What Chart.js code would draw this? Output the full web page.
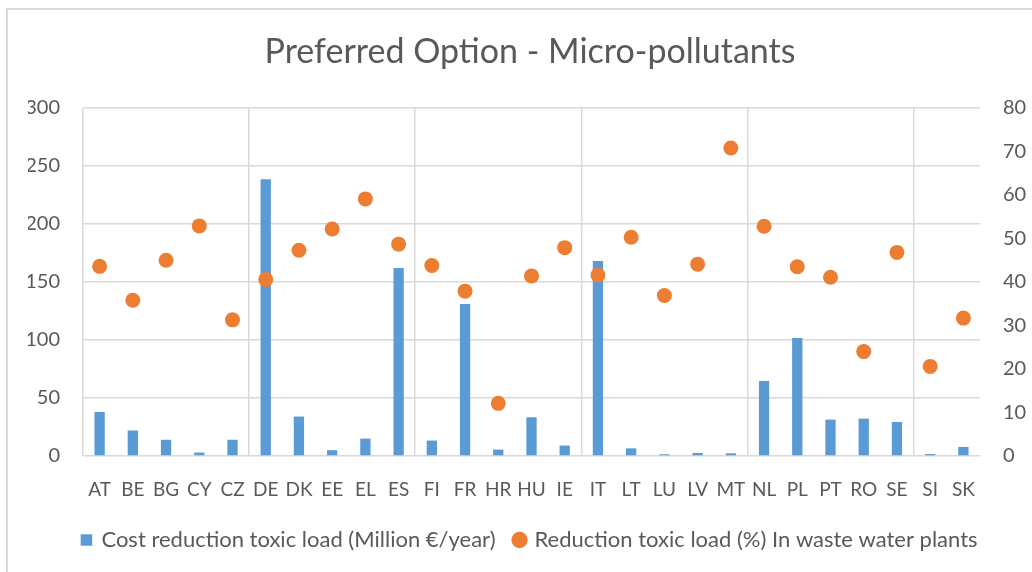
<!DOCTYPE html>
<html>
<head>
<meta charset="utf-8">
<script src="https://cdn.jsdelivr.net/npm/chart.js@4.4.0/dist/chart.umd.min.js"></script>
<style>
  html, body { margin: 0; padding: 0; background: #ffffff; }
  #wrap { position: relative; width: 1032px; height: 572px; overflow: hidden; }
  #frame { position: absolute; left: 6px; top: 8px; width: 1100px; height: 700px;
           border-left: 2px solid #d9d9d9; border-top: 2px solid #d9d9d9; }
  #c { position: absolute; left: 0; top: 0; }
</style>
</head>
<body>
<div id="wrap">
  <div id="frame"></div>
  <canvas id="c" width="1032" height="572"></canvas>
</div>
<script>
const categories = ["AT","BE","BG","CY","CZ","DE","DK","EE","EL","ES","FI","FR","HR","HU","IE","IT","LT","LU","LV","MT","NL","PL","PT","RO","SE","SI","SK"];
const costValues = [38, 22, 14, 3, 14, 238.5, 34, 5, 15, 162, 13.3, 131, 5.5, 33.4, 9, 168, 6.6, 1.5, 2.6, 2.3, 64.7, 101.8, 31.4, 32.2, 29.3, 1.7, 7.8];
const reductionValues = [43.6, 35.8, 45.0, 52.9, 31.3, 40.6, 47.3, 52.2, 59.1, 48.7, 43.8, 37.9, 12.1, 41.4, 47.9, 41.6, 50.3, 36.9, 44.1, 70.8, 52.8, 43.5, 41.1, 24.0, 46.8, 20.6, 31.7];
const leftAxis = { min: 0, max: 300, step: 50 };
const rightAxis = { min: 0, max: 80, step: 10 };
const titleText = "Preferred Option - Micro-pollutants";
const costLabel = "Cost reduction toxic load (Million €/year)";
const reductionLabel = "Reduction toxic load (%) In waste water plants";

const FONT = "Lato";
const TEXT = "#595959";
const GRID = "#d9d9d9";

new Chart(document.getElementById("c"), {
  data: {
    labels: categories,
    datasets: [
      {
        type: "bar",
        label: costLabel,
        data: costValues,
        backgroundColor: "#5B9BD5",
        borderWidth: 0,
        barPercentage: 0.31,
        categoryPercentage: 1.0,
        yAxisID: "y",
        order: 1,
        pointStyle: "rect"
      },
      {
        type: "line",
        label: reductionLabel,
        data: reductionValues,
        showLine: false,
        pointRadius: 7.5,
        pointHoverRadius: 7.5,
        pointBackgroundColor: "#ED7D31",
        pointBorderWidth: 0,
        backgroundColor: "#ED7D31",
        borderColor: "#ED7D31",
        yAxisID: "y1",
        order: 0,
        pointStyle: "circle"
      }
    ]
  },
  options: {
    responsive: false,
    animation: false,
    devicePixelRatio: 1,
    layout: { padding: { left: 28, right: 0, top: 0, bottom: 11 } },
    plugins: {
      title: {
        display: true,
        text: titleText,
        color: TEXT,
        font: { family: FONT, size: 34, weight: "normal" },
        padding: { top: 32, bottom: 35.2 }
      },
      legend: {
        position: "bottom",
        labels: {
          color: TEXT,
          font: { family: FONT, size: 22 },
          usePointStyle: true,
          boxWidth: 8,
          boxHeight: 11.5,
          padding: 20,
          sort: (a, b) => a.datasetIndex - b.datasetIndex
        }
      },
      tooltip: { enabled: false }
    },
    scales: {
      x: {
        type: "category",
        offset: true,
        grid: {
          offset: true,
          drawTicks: false,
          color: (ctx) => (ctx.index % 5 === 0 ? GRID : "rgba(0,0,0,0)"),
          lineWidth: 1.5
        },
        border: { display: false },
        ticks: {
          color: TEXT,
          font: { family: FONT, size: 19 },
          padding: 22,
          maxRotation: 0,
          autoSkip: false
        },
        afterFit: (s) => { s.height = 53; }
      },
      y: {
        position: "left",
        min: leftAxis.min,
        max: leftAxis.max,
        grid: { color: GRID, drawTicks: false, lineWidth: 1.5 },
        border: { display: false },
        ticks: {
          stepSize: leftAxis.step,
          color: TEXT,
          font: { family: FONT, size: 20 },
          padding: 23
        },
        afterFit: (s) => { s.width = 55; }
      },
      y1: {
        position: "right",
        min: rightAxis.min,
        max: rightAxis.max,
        grid: { display: false, drawTicks: false },
        border: { display: false },
        ticks: {
          stepSize: rightAxis.step,
          color: TEXT,
          font: { family: FONT, size: 20 },
          padding: 23
        },
        afterFit: (s) => { s.width = 52; }
      }
    }
  }
});
</script>
</body>
</html>
